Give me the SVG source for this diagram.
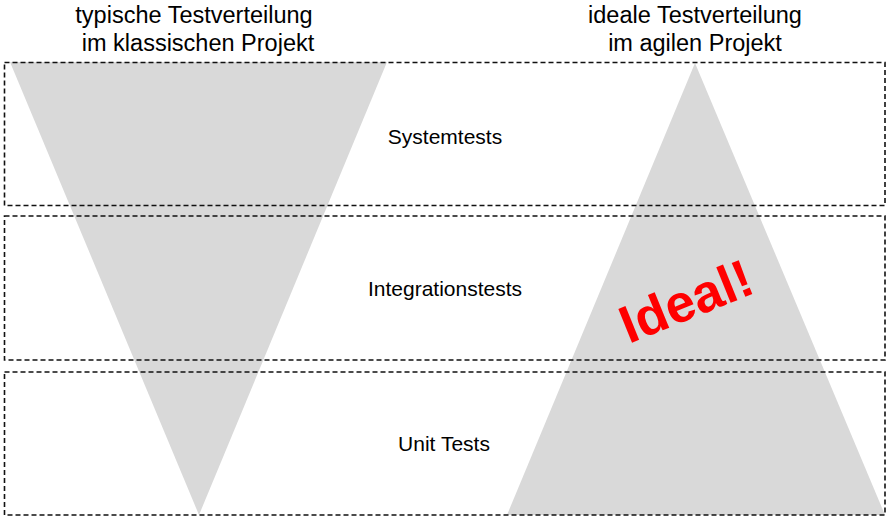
<svg xmlns="http://www.w3.org/2000/svg" width="891" height="522" viewBox="0 0 891 522">
  <style>
    .title { font-family: "Liberation Sans", Arial, sans-serif; font-size: 23.5px; fill: #000; text-anchor: middle; }
    .label { font-family: "Liberation Sans", Arial, sans-serif; font-size: 21px; fill: #000; text-anchor: middle; }
    .shape { fill: #d9d9d9; stroke: none; }
    .band { fill: none; stroke: #111; stroke-width: 1.6; stroke-dasharray: 5 3; }
    .ideal { font-family: "Liberation Sans", Arial, sans-serif; font-size: 53px; font-weight: bold; fill: #ff0000; text-anchor: middle; }
  </style>
  <rect width="891" height="522" fill="#ffffff"/>

  <!-- headings -->
  <g id="heading-classic">
    <text class="title" x="194" y="23">typische Testverteilung</text>
    <text class="title" x="198" y="51">im klassischen Projekt</text>
  </g>
  <g id="heading-agile">
    <text class="title" x="695" y="23">ideale Testverteilung</text>
    <text class="title" x="695" y="51">im agilen Projekt</text>
  </g>

  <!-- distribution shapes -->
  <g id="classic-distribution">
    <polygon class="shape" points="10,62 387,62 199,515"/>
  </g>
  <g id="agile-distribution">
    <polygon class="shape" points="695,63 885,515 507,515"/>
  </g>

  <!-- test levels -->
  <g id="level-system">
    <rect class="band" x="4.5" y="62.5" width="880.5" height="143"/>
    <text class="label" x="445" y="144">Systemtests</text>
  </g>
  <g id="level-integration">
    <rect class="band" x="4.5" y="216" width="880.5" height="144"/>
    <text class="label" x="445" y="296">Integrationstests</text>
  </g>
  <g id="level-unit">
    <rect class="band" x="4.5" y="372" width="880.5" height="143"/>
    <text class="label" x="444" y="451">Unit Tests</text>
  </g>

  <g id="ideal-mark">
    <text class="ideal" transform="translate(693,318) rotate(-22)">Ideal!</text>
  </g>
</svg>
